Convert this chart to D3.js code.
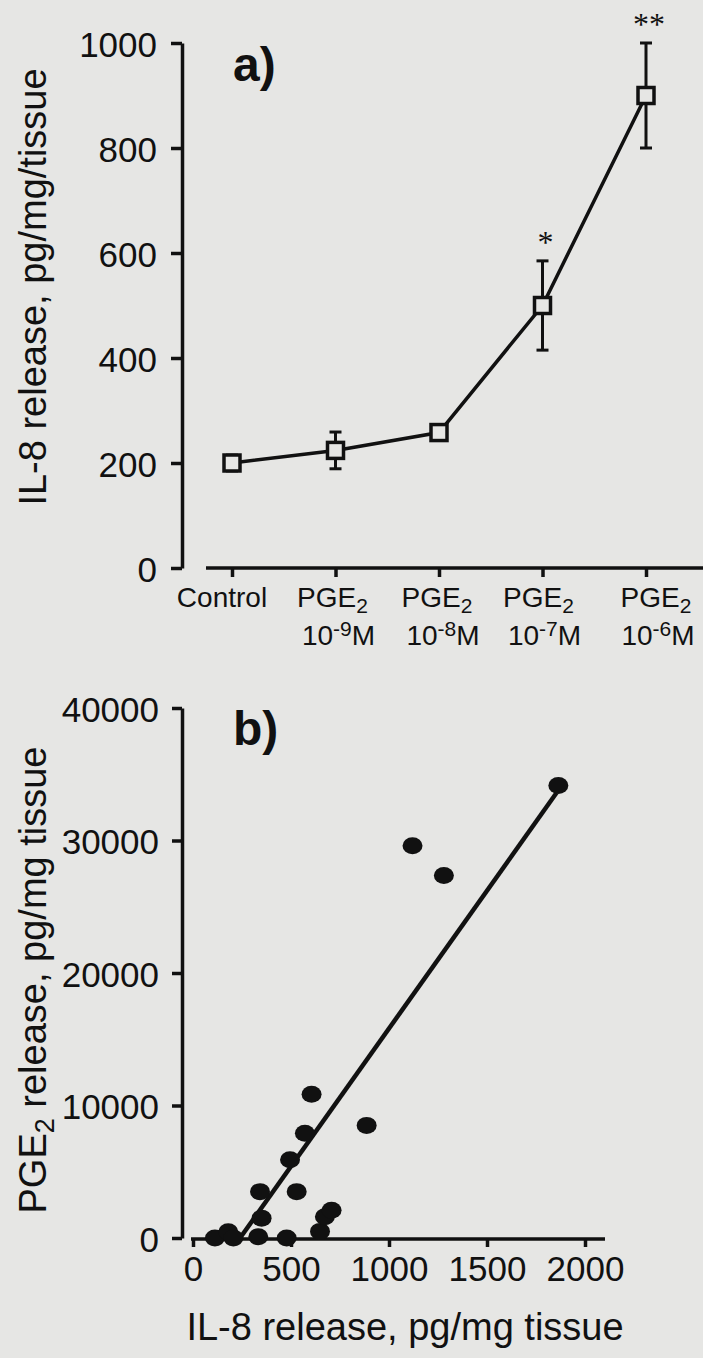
<!DOCTYPE html>
<html>
<head>
<meta charset="utf-8">
<script src="https://cdn.jsdelivr.net/npm/d3@7"></script>
<style>
	body { margin: 0; background: #e6e6e4; }
	svg { display: block; }
	text { font-family: "Liberation Sans", Arial, Helvetica, sans-serif; fill: #111; }
</style>
</head>
<body>
<div id="chart"></div>
<script>
// panel a: IL-8 release vs PGE2 dose
const doseCats = ["Control", "1e-9", "1e-8", "1e-7", "1e-6"];
const doseExp = [null, "-9", "-8", "-7", "-6"];
const il8Mean = [200, 224, 258, 500, 900];
const il8Err = [15, 35, 12, 85, 100];
const signif = ["", "", "", "*", "**"];
const il8Ticks = [0, 200, 400, 600, 800, 1000];

// panel b: PGE2 release vs IL-8 release
const il8X = [112, 180, 206, 333, 350, 342, 478, 495, 529, 648, 673, 707, 571, 605, 886, 1120, 1280, 1864];
const pgeY = [0, 480, 0, 100, 1500, 3500, 0, 5900, 3500, 500, 1600, 2100, 7900, 10850, 8500, 29600, 27350, 34150];
const fitX = [240, 1855];
const fitY = [0, 33600];
const pgeTicks = [0, 10000, 20000, 30000, 40000];
const il8XTicks = [0, 500, 1000, 1500, 2000];

const W = 703, H = 1358;
const ink = "#111";
const bg = "#e6e6e4";
const plain = d3.format("d");

const svg = d3.select("#chart")
	.append("svg")
	.attr("width", W)
	.attr("height", H);

// ---------- panel a ----------
const xA = d3.scalePoint().domain(doseCats).range([232, 646]);
const yA = d3.scaleLinear().domain([0, 1000]).range([568, 43]);

const yAxisA = svg.append("g")
	.attr("transform", "translate(182,0)")
	.call(d3.axisLeft(yA).tickValues(il8Ticks).tickFormat(plain).tickSize(11).tickSizeOuter(0).tickPadding(14));
yAxisA.selectAll("path, line").attr("stroke", ink).attr("stroke-width", 3.5);
yAxisA.selectAll("text").style("font-size", "35px").attr("fill", ink).attr("dy", "0.38em");

const xAxisA = svg.append("g")
	.attr("transform", "translate(0,568)")
	.call(d3.axisBottom(xA).tickSize(9).tickSizeOuter(0).tickFormat(""));
xAxisA.select(".domain").remove();
xAxisA.selectAll("line").attr("stroke", ink).attr("stroke-width", 3.5);
svg.append("line")
	.attr("x1", 206).attr("x2", W)
	.attr("y1", 568).attr("y2", 568)
	.attr("stroke", ink).attr("stroke-width", 3.5);

// two-line tick labels
const nudge = [-10, -3, -2, -4, 10];
doseCats.forEach((c, i) => {
	const cx = xA(c) + nudge[i];
	if (doseExp[i] === null) {
		svg.append("text")
			.attr("x", cx).attr("y", 607)
			.attr("text-anchor", "middle")
			.style("font-size", "28px")
			.text("Control");
		return;
	}
	const t1 = svg.append("text")
		.attr("x", cx).attr("y", 607)
		.attr("text-anchor", "middle")
		.style("font-size", "28px");
	t1.append("tspan").text("PGE");
	t1.append("tspan").attr("dy", 6).style("font-size", "21px").text("2");

	const t2 = svg.append("text")
		.attr("x", cx + (i === doseCats.length - 1 ? 2 : 6)).attr("y", 645)
		.attr("text-anchor", "middle")
		.style("font-size", "28px");
	t2.append("tspan").text("10");
	t2.append("tspan").attr("dy", -9).style("font-size", "21px").text(doseExp[i]);
	t2.append("tspan").attr("dy", 9).text("M");
});

// axis title a
svg.append("text")
	.attr("transform", "translate(46,287) rotate(-90)")
	.attr("text-anchor", "middle")
	.style("font-size", "38px")
	.text("IL-8 release, pg/mg/tissue");

// error bars
const ptsA = doseCats.map((c, i) => ({ c, m: il8Mean[i], e: il8Err[i], s: signif[i] }));
const eb = svg.append("g").attr("stroke", ink).attr("stroke-width", 3);
eb.selectAll(".stem").data(ptsA).enter().append("line")
	.attr("x1", d => xA(d.c)).attr("x2", d => xA(d.c))
	.attr("y1", d => yA(d.m - d.e)).attr("y2", d => yA(d.m + d.e));
eb.selectAll(".capHi").data(ptsA).enter().append("line")
	.attr("x1", d => xA(d.c) - 6).attr("x2", d => xA(d.c) + 6)
	.attr("y1", d => yA(d.m + d.e)).attr("y2", d => yA(d.m + d.e));
eb.selectAll(".capLo").data(ptsA).enter().append("line")
	.attr("x1", d => xA(d.c) - 6).attr("x2", d => xA(d.c) + 6)
	.attr("y1", d => yA(d.m - d.e)).attr("y2", d => yA(d.m - d.e));

// line
svg.append("path")
	.datum(ptsA)
	.attr("fill", "none")
	.attr("stroke", ink)
	.attr("stroke-width", 3.5)
	.attr("d", d3.line().x(d => xA(d.c)).y(d => yA(d.m)));

// open squares
svg.selectAll(".sq").data(ptsA).enter().append("rect")
	.attr("x", d => xA(d.c) - 8).attr("y", d => yA(d.m) - 8)
	.attr("width", 16).attr("height", 16)
	.attr("fill", bg).attr("stroke", ink).attr("stroke-width", 3.5);

// significance stars
svg.selectAll(".star").data(ptsA.filter(d => d.s)).enter().append("text")
	.attr("x", d => xA(d.c) + 3)
	.attr("y", d => yA(d.m + d.e) - 8)
	.attr("text-anchor", "middle")
	.style("font-family", "'Liberation Serif', 'Times New Roman', serif")
	.style("font-size", "32px")
	.text(d => d.s);

// panel label
svg.append("text")
	.attr("x", 233).attr("y", 81)
	.style("font-size", "48px").style("font-weight", 700)
	.text("a)");

// ---------- panel b ----------
const xB = d3.scaleLinear().domain([0, 2000]).range([193, 585]);
const yB = d3.scaleLinear().domain([0, 40000]).range([1238, 708]);

const yAxisB = svg.append("g")
	.attr("transform", "translate(182,0)")
	.call(d3.axisLeft(yB).tickValues(pgeTicks).tickFormat(plain).tickSize(10).tickSizeOuter(0).tickPadding(13));
yAxisB.selectAll("path, line").attr("stroke", ink).attr("stroke-width", 3.5);
yAxisB.selectAll("text").style("font-size", "35px").attr("fill", ink).attr("dy", "0.38em");

const xAxisB = svg.append("g")
	.attr("transform", "translate(0,1239)")
	.call(d3.axisBottom(xB).tickValues(il8XTicks).tickFormat(plain).tickSize(8).tickSizeOuter(0).tickPadding(9));
xAxisB.select(".domain").remove();
xAxisB.selectAll("line").attr("stroke", ink).attr("stroke-width", 3.5);
xAxisB.selectAll("text").style("font-size", "35px").attr("fill", ink);
svg.append("line")
	.attr("x1", xB(0) - 2).attr("x2", 605)
	.attr("y1", 1239).attr("y2", 1239)
	.attr("stroke", ink).attr("stroke-width", 3.5);

// axis titles b
const ty = svg.append("text")
	.attr("transform", "translate(46,980) rotate(-90)")
	.attr("text-anchor", "middle")
	.style("font-size", "38px");
ty.append("tspan").text("PGE");
ty.append("tspan").attr("dy", 8).style("font-size", "27px").text("2");
ty.append("tspan").attr("dy", -8).text(" release, pg/mg tissue");

svg.append("text")
	.attr("x", 405).attr("y", 1340)
	.attr("text-anchor", "middle")
	.style("font-size", "38px")
	.text("IL-8 release, pg/mg tissue");

// regression line
svg.append("line")
	.attr("x1", xB(fitX[0])).attr("y1", yB(fitY[0]))
	.attr("x2", xB(fitX[1])).attr("y2", yB(fitY[1]))
	.attr("stroke", ink).attr("stroke-width", 4.5);

// points
const ptsB = il8X.map((x, i) => ({ x, y: pgeY[i] }));
svg.selectAll(".dot").data(ptsB).enter().append("ellipse")
	.attr("cx", d => xB(d.x)).attr("cy", d => yB(d.y))
	.attr("rx", 10).attr("ry", 8.5)
	.attr("fill", ink);

svg.append("text")
	.attr("x", 233).attr("y", 745)
	.style("font-size", "48px").style("font-weight", 700)
	.text("b)");
</script>
</body>
</html>
